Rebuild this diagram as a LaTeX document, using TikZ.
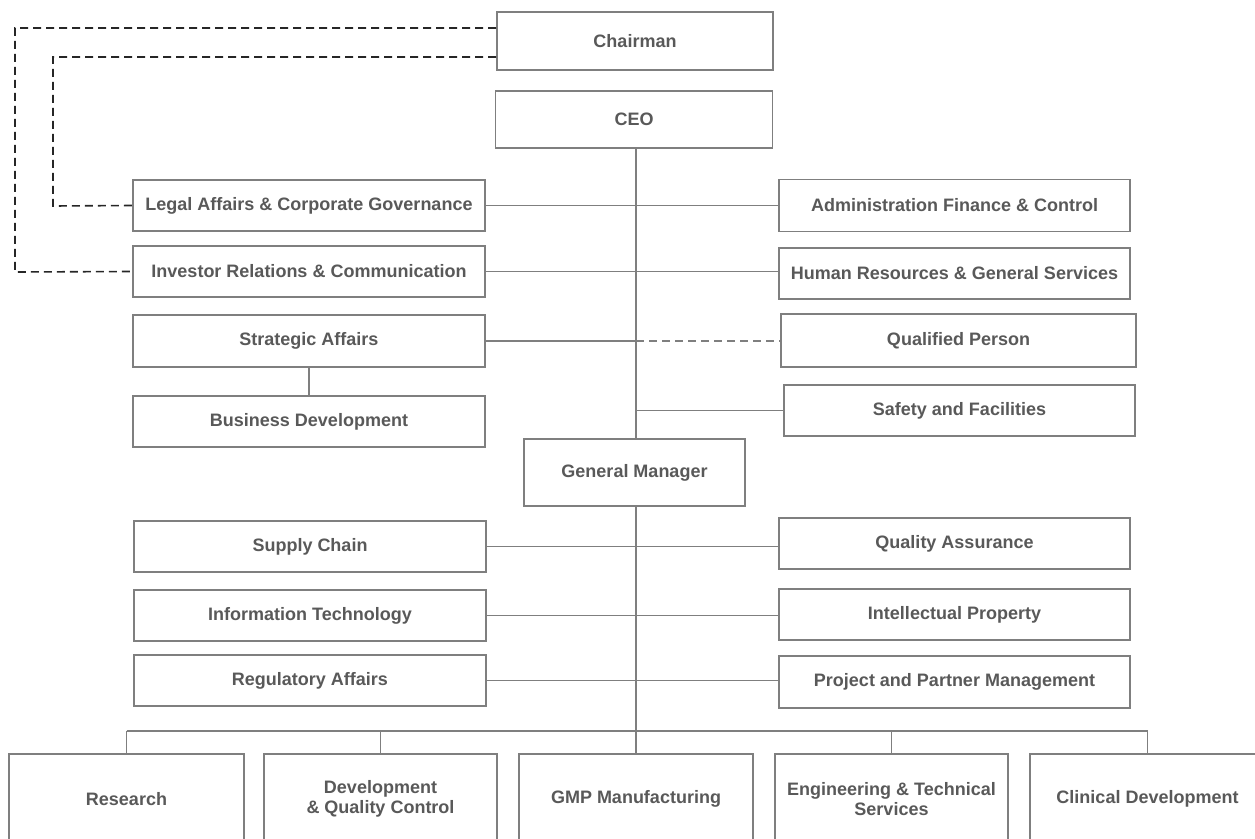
\documentclass[tikz,border=0pt]{standalone}
\usepackage{fontspec}
\setmainfont{Liberation Sans}
\definecolor{txtgray}{HTML}{595959}
\definecolor{boxgray}{HTML}{7F7F7F}
\definecolor{dashgray}{HTML}{262626}
\tikzset{
  unit/.style={draw=boxgray, line width=1.3pt, fill=white, inner sep=0pt, align=center,
    text=txtgray, font=\fontsize{13.5}{15.5}\selectfont\bfseries,
    minimum width=#1*0.75pt},
  unit/.default=352,
  link/.style={draw=boxgray, line width=1.2pt},
  dotlink/.style={draw=dashgray, line width=1.2pt, dash pattern=on 6pt off 3.75pt},
}
\begin{document}
\begin{tikzpicture}[x=0.75pt,y=-0.75pt]
\useasboundingbox (0,0) rectangle (1255,838);
\clip (0,0) rectangle (1255,838);

% top
\node[unit=276, minimum height=43.5pt] (chair) at (635,41) {Chairman};
\node[unit=277, minimum height=42.75pt] (ceo) at (634,119.5) {CEO};

% staff
\node[unit, minimum height=38.25pt] (legal) at (309,205.5) {Legal Affairs \& Corporate Governance};
\node[unit, minimum height=38.25pt] (investor) at (309,271.5) {Investor Relations \& Communication};
\node[unit, minimum height=39pt] (strat) at (309,341) {Strategic Affairs};
\node[unit, minimum height=38.25pt] (busdev) at (309,421.5) {Business Development};

\node[unit=351, minimum height=39pt] (admin) at (954.5,205.5) {Administration Finance \& Control};
\node[unit=351, minimum height=38.25pt] (hr) at (954.5,273.5) {Human Resources \& General Services};
\node[unit=355, minimum height=39.75pt] (qp) at (958.5,340.5) {Qualified Person};
\node[unit=351, minimum height=38.25pt] (safety) at (959.5,410.5) {Safety and Facilities};

\node[unit=221, minimum height=50.25pt] (gm) at (634.5,472.5) {General Manager};

\node[unit, minimum height=38.25pt] (supply) at (310,546.5) {Supply Chain};
\node[unit, minimum height=38.25pt] (it) at (310,615.5) {Information Technology};
\node[unit, minimum height=38.25pt] (reg) at (310,680.5) {Regulatory Affairs};

\node[unit=351, minimum height=38.25pt] (qa) at (954.5,543.5) {Quality Assurance};
\node[unit=351, minimum height=38.25pt] (ip) at (954.5,614.5) {Intellectual Property};
\node[unit=351, minimum height=39pt] (ppm) at (954.5,682) {Project and Partner Management};

% divisions
\node[unit=235, minimum height=67.5pt] (research) at (126.5,799) {Research};
\node[unit=233, minimum height=67.5pt] (dev) at (380.5,799) {Development\\\& Quality Control};
\node[unit=234, minimum height=67.5pt] (gmp) at (636,799) {GMP Manufacturing};
\node[unit=233, minimum height=67.5pt] (eng) at (891.5,799) {Engineering \& Technical\\Services};
\node[unit=235, minimum height=67.5pt] (clin) at (1147.5,799) {Clinical Development};

\coordinate (bus) at (636,731);

\draw[link] (ceo.south -| gmp) -- (gm.north -| gmp);
\draw[link] (gm.south -| gmp) -- (gmp.north);
\draw[link] (legal.east) -- (admin.west);
\draw[link] (investor.east) -- (investor.east -| hr.west);
\draw[link] (strat.east) -- (strat.east -| gmp);
\draw[link, dash pattern=on 6pt off 3.75pt] (strat.east -| gmp) -- (strat.east -| qp.west);
\draw[link] (safety.west -| gmp) -- (safety.west);
\draw[link] (strat.south) -- (busdev.north);
\draw[link] (supply.east) -- (supply.east -| qa.west);
\draw[link] (it.east) -- (it.east -| ip.west);
\draw[link] (reg.east) -- (reg.east -| ppm.west);

\draw[link] (research.north |- bus) -- (clin.north |- bus);
\foreach \n in {research,dev,eng,clin}
  \draw[link] (\n.north) -- (\n.north |- bus);

\draw[dotlink] ([yshift=9.75pt]chair.west) -| (15,272) -- (investor.west);
\draw[dotlink] ([yshift=-12pt]chair.west) -| (53,206) -- (legal.west);
\end{tikzpicture}
\end{document}
